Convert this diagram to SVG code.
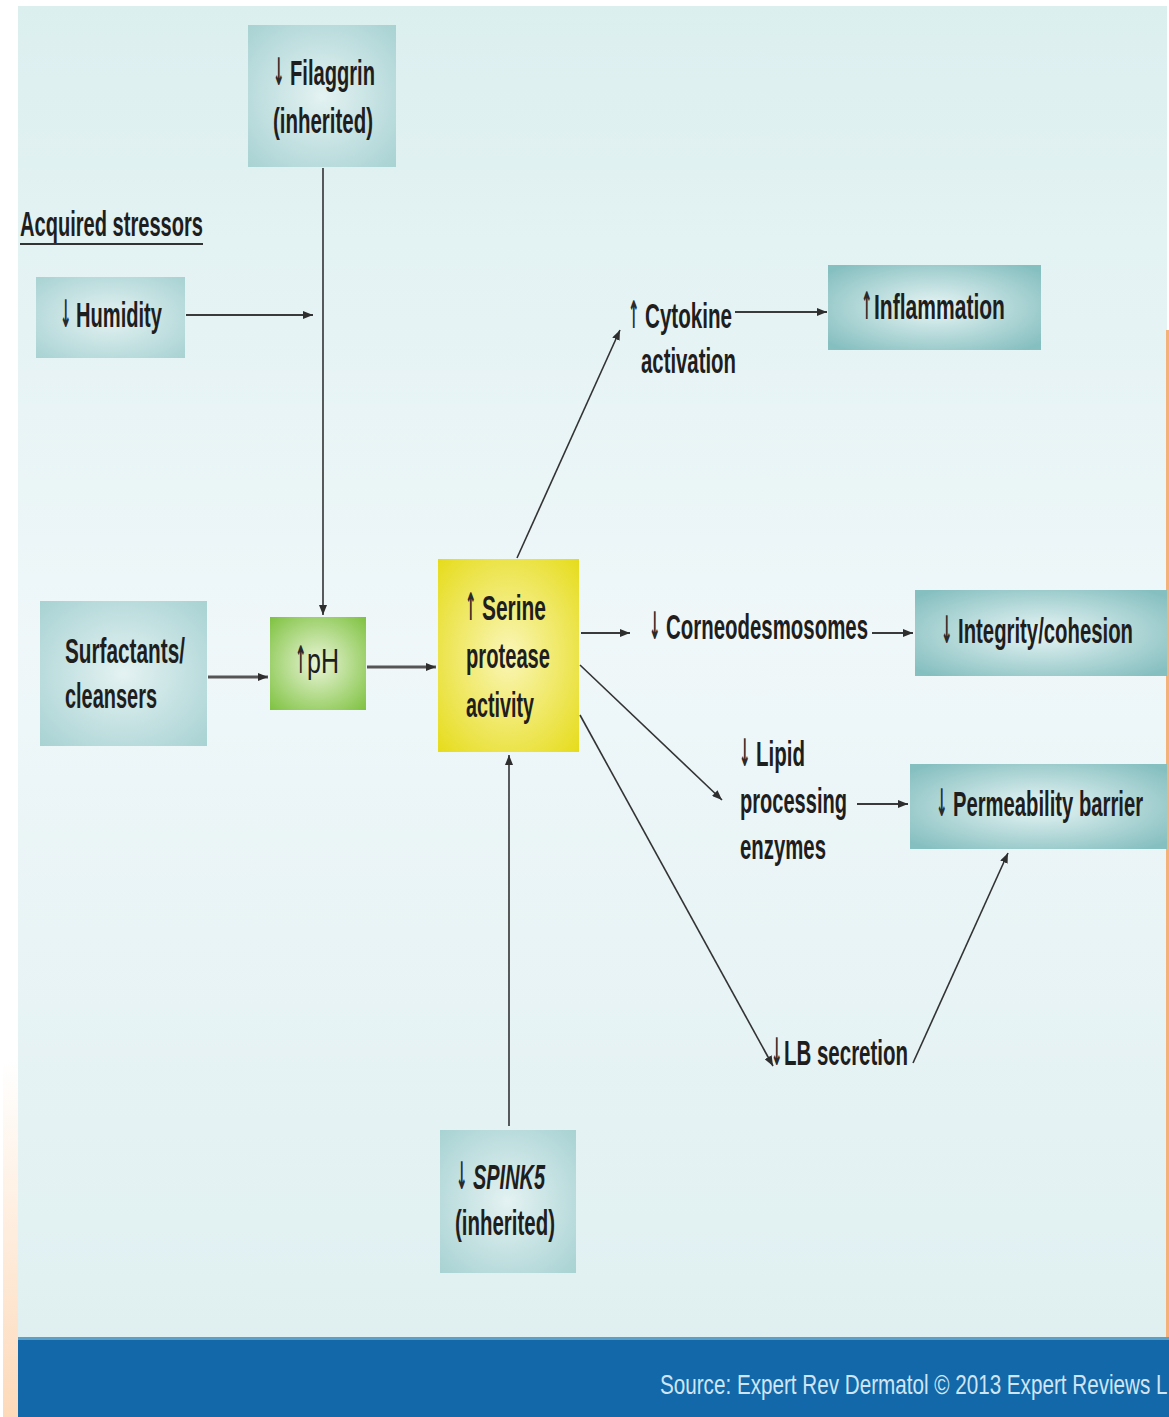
<svg xmlns="http://www.w3.org/2000/svg" width="1169" height="1417" viewBox="0 0 1169 1417">
<defs>
<linearGradient id="bg" x1="0" y1="0" x2="0" y2="1">
<stop offset="0" stop-color="#dcefef"/>
<stop offset="0.45" stop-color="#eff7f9"/>
<stop offset="1" stop-color="#deeff0"/>
</linearGradient>
<linearGradient id="peach" x1="0" y1="0" x2="0" y2="1">
<stop offset="0" stop-color="#ffffff"/>
<stop offset="1" stop-color="#fdd9b9"/>
</linearGradient>
<radialGradient id="tealL" cx="0.5" cy="0.5" r="0.7">
<stop offset="0" stop-color="#e4f2f2"/>
<stop offset="1" stop-color="#a8d2d3"/>
</radialGradient>
<radialGradient id="tealD" cx="0.5" cy="0.5" r="0.65">
<stop offset="0" stop-color="#e8f5f5"/>
<stop offset="1" stop-color="#86bfc0"/>
</radialGradient>
<radialGradient id="green" cx="0.5" cy="0.5" r="0.7">
<stop offset="0" stop-color="#eaf5d8"/>
<stop offset="1" stop-color="#7fc241"/>
</radialGradient>
<radialGradient id="yellow" cx="0.5" cy="0.5" r="0.7">
<stop offset="0" stop-color="#faf6b8"/>
<stop offset="1" stop-color="#e6dc1c"/>
</radialGradient>
<marker id="ah" viewBox="0 0 10 8" refX="10" refY="4" markerWidth="10" markerHeight="8" markerUnits="userSpaceOnUse" orient="auto">
<path d="M0,0 L10,4 L0,8 z" fill="#2e2e2e"/>
</marker>
<style>
.t{font-family:"Liberation Sans",Arial,sans-serif;font-weight:bold;font-size:36px;fill:#1e1e1e}
.n{font-weight:normal}
.a{font-family:"DejaVu Sans",sans-serif;font-weight:bold;font-size:38px;fill:#2a2a2a}
.c{stroke:#333;stroke-width:1.6;fill:none;marker-end:url(#ah)}
.c2{stroke:#3a3a3a;stroke-width:2.2;fill:none;marker-end:url(#ah)}
.c3{stroke:#555;stroke-width:3;fill:none;marker-end:url(#ah)}
</style>
</defs>
<rect x="0" y="0" width="1169" height="1417" fill="#ffffff"/>
<rect x="18" y="6" width="1149" height="1411" fill="url(#bg)"/>
<rect x="3" y="1060" width="15" height="357" fill="url(#peach)"/>
<rect x="1166" y="330" width="3" height="1008" fill="#f4b27a"/>

<g id="banner">
<rect x="18" y="1338" width="1151" height="79" fill="#1268a8"/>
<rect x="18" y="1337" width="1151" height="3" fill="#5e9fc6"/>
<text transform="translate(660 1394) scale(0.7 1)" font-family="'Liberation Sans',Arial,sans-serif" font-size="28" fill="#cfe5f4" textLength="725" lengthAdjust="spacingAndGlyphs">Source: Expert Rev Dermatol © 2013 Expert Reviews L</text>
</g>

<g id="connectors">
<line class="c" x1="323" y1="168" x2="323" y2="615"/>
<line class="c2" x1="186" y1="315" x2="313" y2="315"/>
<line class="c3" x1="208" y1="677" x2="268" y2="677"/>
<line class="c3" x1="367" y1="667" x2="436" y2="667"/>
<line class="c" x1="509" y1="1126" x2="509" y2="755"/>
<line class="c" x1="517" y1="558" x2="620" y2="330"/>
<line class="c2" x1="735" y1="312" x2="827" y2="312"/>
<line class="c2" x1="581" y1="633" x2="630" y2="633"/>
<line class="c2" x1="872" y1="633" x2="913" y2="633"/>
<line class="c" x1="580" y1="665" x2="722" y2="800"/>
<line class="c2" x1="857" y1="804" x2="908" y2="804"/>
<line class="c" x1="580" y1="715" x2="773" y2="1066"/>
<line class="c" x1="913" y1="1063" x2="1008" y2="853"/>
</g>

<g id="filaggrin">
<rect x="248" y="25" width="148" height="142" fill="url(#tealL)"/>
<text class="a" transform="translate(273 85) scale(0.36 1)">↓</text>
<text class="t" transform="translate(290 85) scale(0.6 1)" textLength="141.7" lengthAdjust="spacingAndGlyphs">Filaggrin</text>
<text class="t" transform="translate(273 133) scale(0.6 1)" textLength="166.7" lengthAdjust="spacingAndGlyphs">(inherited)</text>
</g>

<g id="acquired-stressors">
<text class="t" transform="translate(20 236) scale(0.6 1)" textLength="305" lengthAdjust="spacingAndGlyphs">Acquired stressors</text>
<line x1="20" y1="244" x2="203" y2="244" stroke="#333" stroke-width="2"/>
</g>

<g id="humidity">
<rect x="36" y="277" width="149" height="81" fill="url(#tealL)"/>
<text class="a" transform="translate(60 327) scale(0.36 1)">↓</text>
<text class="t" transform="translate(76 327) scale(0.6 1)" textLength="143.3" lengthAdjust="spacingAndGlyphs">Humidity</text>
</g>

<g id="surfactants">
<rect x="40" y="601" width="167" height="145" fill="url(#tealL)"/>
<text class="t" transform="translate(65 663) scale(0.6 1)" textLength="200" lengthAdjust="spacingAndGlyphs">Surfactants/</text>
<text class="t" transform="translate(65 708) scale(0.6 1)" textLength="153.3" lengthAdjust="spacingAndGlyphs">cleansers</text>
</g>

<g id="ph">
<rect x="270" y="617" width="96" height="93" fill="url(#green)"/>
<text class="a n" transform="translate(295 673) scale(0.36 1)">↑</text>
<text class="t n" transform="translate(307 673) scale(0.6 1)" textLength="53.3" lengthAdjust="spacingAndGlyphs">pH</text>
</g>

<g id="serine">
<rect x="438" y="559" width="141" height="193" fill="url(#yellow)"/>
<text class="a" transform="translate(465 620) scale(0.36 1)">↑</text>
<text class="t" transform="translate(482 620) scale(0.6 1)" textLength="106.7" lengthAdjust="spacingAndGlyphs">Serine</text>
<text class="t" transform="translate(466 668) scale(0.6 1)" textLength="140" lengthAdjust="spacingAndGlyphs">protease</text>
<text class="t" transform="translate(466 717) scale(0.6 1)" textLength="113.3" lengthAdjust="spacingAndGlyphs">activity</text>
</g>

<g id="spink5">
<rect x="440" y="1130" width="136" height="143" fill="url(#tealL)"/>
<text class="a" transform="translate(456 1189) scale(0.36 1)">↓</text>
<text class="t" transform="translate(473 1189) scale(0.6 1)" textLength="120" lengthAdjust="spacingAndGlyphs" font-style="italic">SPINK5</text>
<text class="t" transform="translate(455 1235) scale(0.6 1)" textLength="166.7" lengthAdjust="spacingAndGlyphs">(inherited)</text>
</g>

<g id="cytokine">
<text class="a" transform="translate(628 328) scale(0.36 1)">↑</text>
<text class="t" transform="translate(645 328) scale(0.6 1)" textLength="145" lengthAdjust="spacingAndGlyphs">Cytokine</text>
<text class="t" transform="translate(641 373) scale(0.6 1)" textLength="158.3" lengthAdjust="spacingAndGlyphs">activation</text>
</g>

<g id="inflammation">
<rect x="828" y="265" width="213" height="85" fill="url(#tealD)"/>
<text class="a" transform="translate(861 319) scale(0.36 1)">↑</text>
<text class="t" transform="translate(874 319) scale(0.6 1)" textLength="218.3" lengthAdjust="spacingAndGlyphs">Inflammation</text>
</g>

<g id="corneodesmosomes">
<text class="a" transform="translate(649 639) scale(0.36 1)">↓</text>
<text class="t" transform="translate(666 639) scale(0.6 1)" textLength="336.7" lengthAdjust="spacingAndGlyphs">Corneodesmosomes</text>
</g>

<g id="integrity">
<rect x="915" y="590" width="252" height="86" fill="url(#tealD)"/>
<text class="a" transform="translate(941 643) scale(0.36 1)">↓</text>
<text class="t" transform="translate(958 643) scale(0.6 1)" textLength="291.7" lengthAdjust="spacingAndGlyphs">Integrity/cohesion</text>
</g>

<g id="lipid">
<text class="a" transform="translate(739 766) scale(0.36 1)">↓</text>
<text class="t" transform="translate(756 766) scale(0.6 1)" textLength="81.7" lengthAdjust="spacingAndGlyphs">Lipid</text>
<text class="t" transform="translate(740 813) scale(0.6 1)" textLength="178.3" lengthAdjust="spacingAndGlyphs">processing</text>
<text class="t" transform="translate(740 859) scale(0.6 1)" textLength="143.3" lengthAdjust="spacingAndGlyphs">enzymes</text>
</g>

<g id="permeability">
<rect x="910" y="764" width="257" height="85" fill="url(#tealD)"/>
<text class="a" transform="translate(936 816) scale(0.36 1)">↓</text>
<text class="t" transform="translate(953 816) scale(0.6 1)" textLength="316.7" lengthAdjust="spacingAndGlyphs">Permeability barrier</text>
</g>

<g id="lb-secretion">
<text class="a" transform="translate(771 1065) scale(0.36 1)">↓</text>
<text class="t" transform="translate(784 1065) scale(0.6 1)" textLength="206.7" lengthAdjust="spacingAndGlyphs">LB secretion</text>
</g>
</svg>
